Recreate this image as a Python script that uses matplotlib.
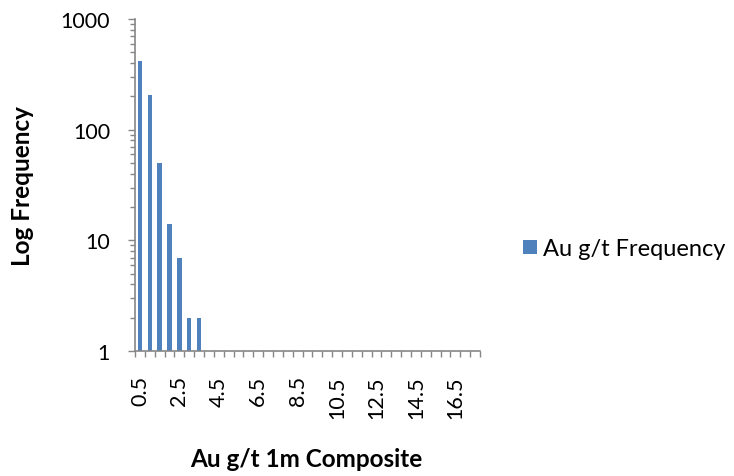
import numpy as np
import matplotlib.pyplot as plt
from matplotlib.ticker import LogLocator, NullFormatter, FixedLocator

plt.rcParams['font.family'] = ['Lato', 'DejaVu Sans']

# Au grade bins (g/t) and counts
bins = [0.5, 1.0, 1.5, 2.0, 2.5, 3.0, 3.5, 4.0, 4.5, 5.0, 5.5, 6.0, 6.5, 7.0, 7.5,
        8.0, 8.5, 9.0, 9.5, 10.0, 10.5, 11.0, 11.5, 12.0, 12.5, 13.0, 13.5, 14.0,
        14.5, 15.0, 15.5, 16.0, 16.5, 17.0, 17.5]
freq = [416, 206, 50, 14, 7, 2, 2, 0, 0, 0, 0, 0, 0, 0, 0,
        0, 0, 0, 0, 0, 0, 0, 0, 0, 0, 0, 0, 0,
        0, 0, 0, 0, 0, 0, 0]
tick_labels = ['0.5', '2.5', '4.5', '6.5', '8.5', '10.5', '12.5', '14.5', '16.5']

axis_col = '#868686'
bar_col = '#4F81BD'

fig = plt.figure(figsize=(7.34, 4.77), dpi=100)
ax = fig.add_axes([0.184, 0.262, 0.470, 0.696])

x = np.arange(len(bins))
f = np.array(freq, dtype=float)
mask = f > 0
bars = ax.bar(x[mask], f[mask], width=0.45, color=bar_col, label='Au g/t Frequency')

ax.set_yscale('log')
ax.set_ylim(1, 1000)
ax.set_xlim(-0.5, len(bins) - 0.5)

# y ticks
ax.yaxis.set_major_locator(FixedLocator([1, 10, 100, 1000]))
ax.yaxis.set_major_formatter(plt.FuncFormatter(lambda v, p: '%d' % v))
ax.yaxis.set_minor_locator(LogLocator(base=10, subs=np.arange(2, 10)))
ax.yaxis.set_minor_formatter(NullFormatter())
ax.tick_params(axis='y', which='major', length=5, width=1, color=axis_col,
               labelsize=15.5, pad=13)
ax.tick_params(axis='y', which='minor', length=3.6, width=1, color=axis_col)

# x ticks: boundaries between categories, labels every 4th category
ax.xaxis.set_major_locator(FixedLocator(np.arange(0, len(bins), 4)))
ax.set_xticklabels(tick_labels, rotation=90)
ax.xaxis.set_minor_locator(FixedLocator(np.arange(len(bins) + 1) - 0.5))
ax.tick_params(axis='x', which='major', length=0, labelsize=15.5, pad=17.5)
ax.tick_params(axis='x', which='minor', length=4.5, width=1, color=axis_col)

for s in ['top', 'right']:
    ax.spines[s].set_visible(False)
for s in ['left', 'bottom']:
    ax.spines[s].set_color(axis_col)
    ax.spines[s].set_linewidth(1.2)

ax.set_ylabel('Log Frequency', fontsize=17.5, fontweight='bold', va='center')
ax.yaxis.set_label_coords(-0.326, 0.5)
ax.set_xlabel('Au g/t 1m Composite', fontsize=17.5, fontweight='bold', va='center')
ax.xaxis.set_label_coords(0.497, -0.325)

fig.legend(handles=[bars], loc='center left', bbox_to_anchor=(0.7125, 0.476),
           frameon=False, fontsize=17, handlelength=0.59, handleheight=0.55,
           handletextpad=0.25, borderaxespad=0, borderpad=0)

fig.savefig('out.png', dpi=100)
